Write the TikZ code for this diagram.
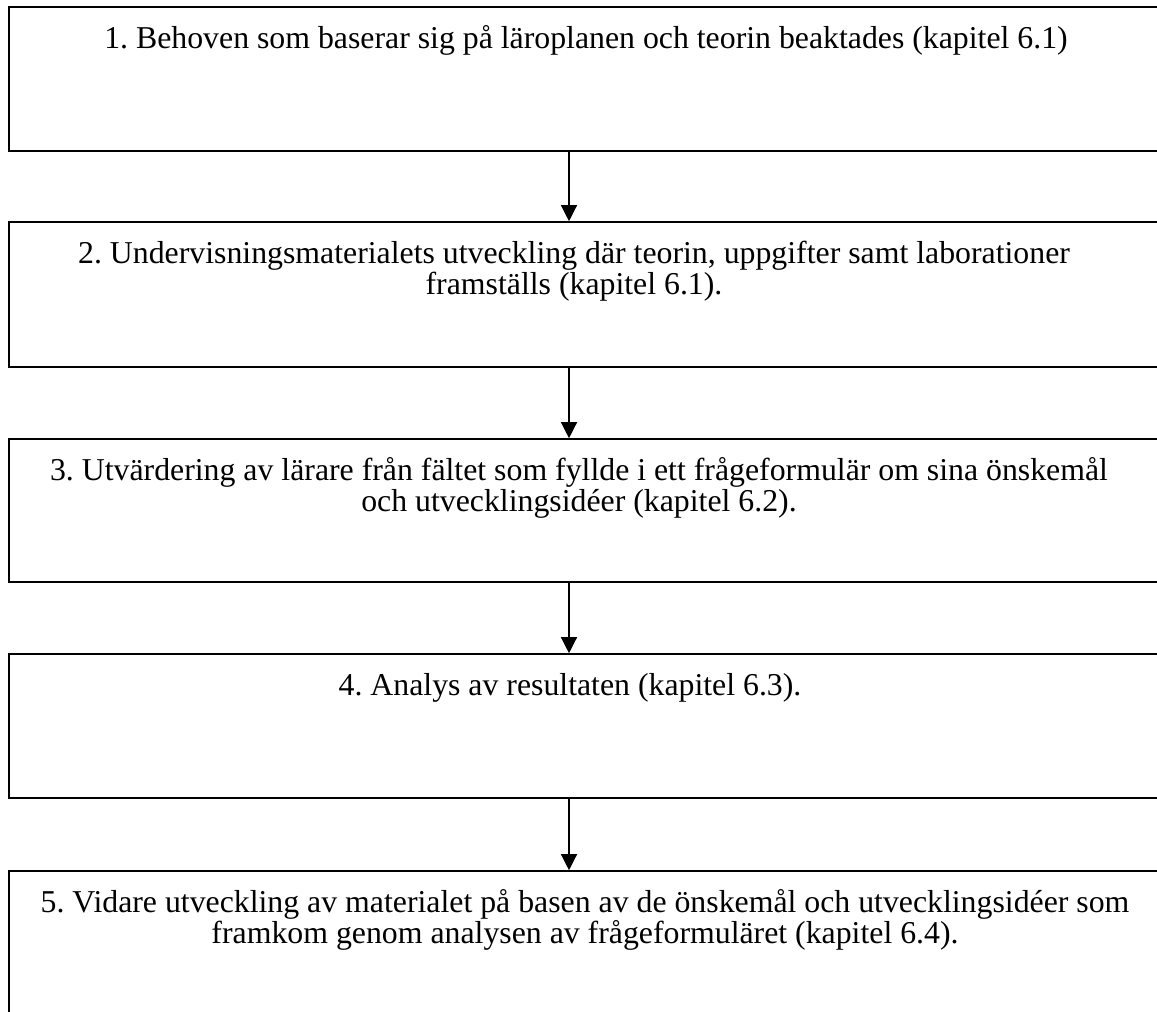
\documentclass[tikz,border=0pt]{standalone}
\usepackage{fontspec}
\setmainfont{Liberation Serif}
\usetikzlibrary{arrows.meta}
\frenchspacing
\tikzset{
  stepbox/.style={draw=black, line width=1.6pt, inner sep=0pt, minimum width=1171pt, rectangle},
  steptext/.style={anchor=north, inner sep=0pt, align=center, font=\fontsize{31.8}{31.6}\selectfont},
  flowarrow/.style={line width=1.3pt, -{Triangle[width=16pt,length=16pt]}}
}
\newcommand{\firstline}{\rule{0pt}{28pt}}
\begin{document}
\begin{tikzpicture}[x=1pt,y=-1pt]
\useasboundingbox (0,0) rectangle (1157,1012);
\clip (0,0) rectangle (1157,1012);
\fill[white] (0,0) rectangle (1157,1012);
\node[stepbox, minimum height=144pt] (b1) at (594.5,79) {};
\node[stepbox, minimum height=145pt] (b2) at (594.5,294.5) {};
\node[stepbox, minimum height=143pt] (b3) at (594.5,510.5) {};
\node[stepbox, minimum height=144pt] (b4) at (594.5,726) {};
\node[stepbox, minimum height=144pt] (b5) at (594.5,943) {};
\node[steptext] (t1) at (586,20) {\firstline 1. Behoven som baserar sig på läroplanen och teorin beaktades (kapitel 6.1)};
\node[steptext] (t2) at (574,235) {\firstline 2. Undervisningsmaterialets utveckling där teorin, uppgifter samt laborationer\\framställs (kapitel 6.1).};
\node[steptext] (t3) at (579,452) {\firstline 3. Utvärdering av lärare från fältet som fyllde i ett frågeformulär om sina önskemål\\och utvecklingsidéer (kapitel 6.2).};
\node[steptext] (t4) at (570,667) {\firstline 4. Analys av resultaten (kapitel 6.3).};
\node[steptext] (t5) at (585,884) {\firstline 5. Vidare utveckling av materialet på basen av de önskemål och utvecklingsidéer som\\framkom genom analysen av frågeformuläret (kapitel 6.4).};
\coordinate (ax) at (569,0);
\draw[flowarrow] (b1.south -| ax) -- (b2.north -| ax);
\draw[flowarrow] (b2.south -| ax) -- (b3.north -| ax);
\draw[flowarrow] (b3.south -| ax) -- (b4.north -| ax);
\draw[flowarrow] (b4.south -| ax) -- (b5.north -| ax);
\end{tikzpicture}
\end{document}
